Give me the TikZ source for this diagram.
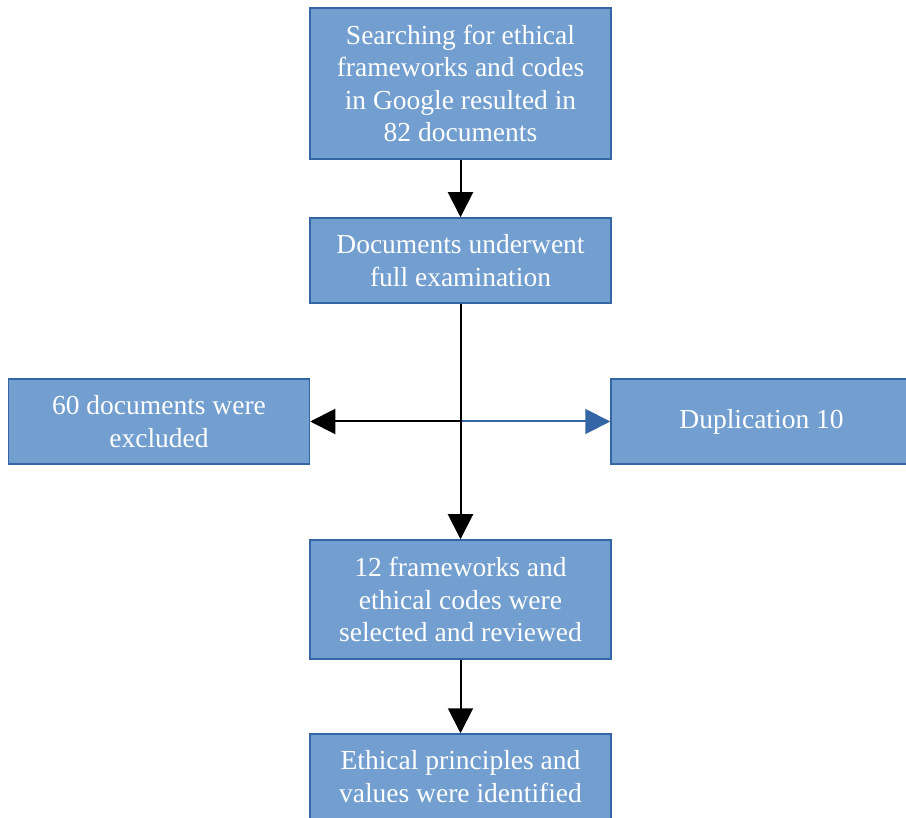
\documentclass[tikz,border=0pt]{standalone}
\usepackage{fontspec}
\setmainfont{Liberation Serif}
\usepackage{xcolor}
\usepackage{tikz}
\usetikzlibrary{positioning,shapes,arrows.meta}
\definecolor{boxfill}{HTML}{729FCF}
\definecolor{boxline}{HTML}{3465A4}
\tikzset{
  stagebox/.style={draw=boxline,fill=boxfill,line width=1.5pt,text=white,
    minimum width=301pt,align=center,inner sep=0pt,
    font=\fontsize{27.5}{32.5}\selectfont},
  flow/.style={line width=2pt,-{Triangle[length=25pt,width=25pt]}}
}
\begin{document}
\begin{tikzpicture}[x=1pt,y=-1pt]
            \useasboundingbox (0,0) rectangle (906,818);
            \node[stagebox,minimum height=151pt] (search) at (460.5,83.5)
                 {Searching for ethical\\frameworks and codes\\in Google resulted in\\82 documents};
            \node[stagebox,minimum height=85pt] (exam) at (460.5,260.5)
                 {Documents underwent\\full examination};
            \node[stagebox,minimum height=85pt] (excl) at (159,421.5)
                 {60 documents were\\excluded};
            \node[stagebox,minimum height=85pt] (dupl) at (761.5,421.5)
                 {Duplication 10};
            \node[stagebox,minimum height=119pt] (sel) at (460.5,599.5)
                 {12 frameworks and\\ethical codes were\\selected and reviewed};
            \node[stagebox,minimum height=85pt] (ident) at (460.5,776.5)
                 {Ethical principles and\\values were identified};
            \coordinate (split) at (460.5,421.5);
            \path[draw=black,flow] (split) -- (excl.east);
            \path[draw=boxline,flow] (split) -- (dupl.west);
            \path[draw=black,flow] (search.south) -- (exam.north);
            \path[draw=black,flow] (exam.south) -- (sel.north);
            \path[draw=black,flow] (sel.south) -- (ident.north);
          \end{tikzpicture}
\end{document}
